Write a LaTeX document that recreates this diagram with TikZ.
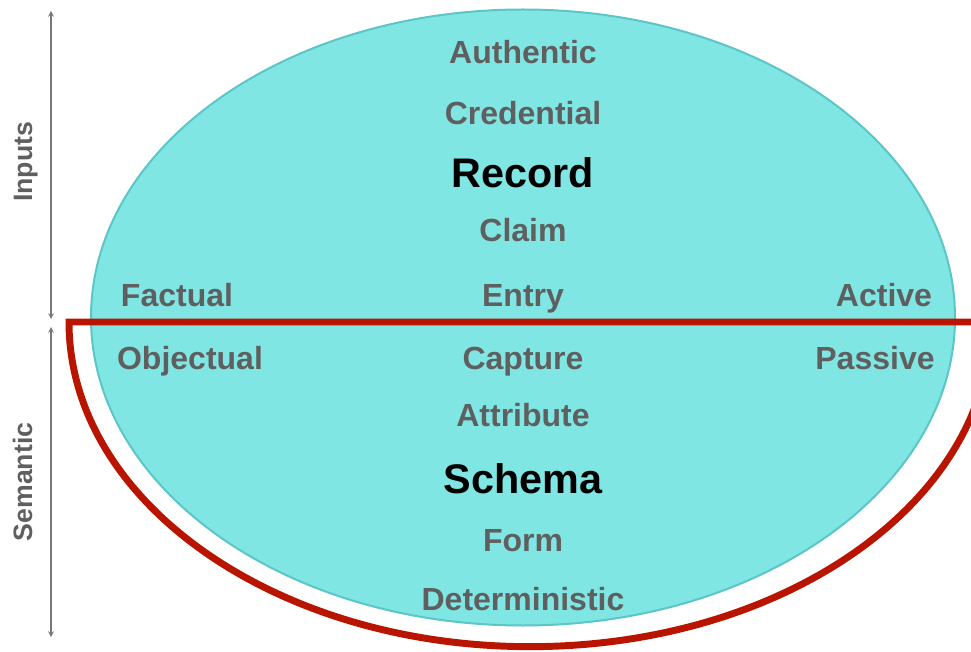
\documentclass[tikz,border=0pt]{standalone}
\usepackage{fontspec}
\setmainfont{Liberation Sans}
\usepackage{tikz}

\definecolor{lagoon}{RGB}{128,230,228}
\definecolor{lagoonrim}{RGB}{92,197,200}
\definecolor{brick}{RGB}{184,20,0}
\definecolor{ink}{RGB}{95,95,95}
\definecolor{axisgray}{RGB}{120,120,120}

\begin{document}
\begin{tikzpicture}[x=0.75pt, y=-0.75pt]
\tikzstyle{term} = [anchor=base, inner sep=0pt, text=ink, font=\bfseries\fontsize{24}{28}\selectfont]
\tikzstyle{core} = [anchor=base, inner sep=0pt, text=black, font=\bfseries\fontsize{31}{36}\selectfont]
\tikzstyle{side} = [anchor=base, inner sep=0pt, rotate=90, text=ink, font=\bfseries\fontsize{20}{24}\selectfont]
\tikzstyle{axis} = [draw=axisgray, line width=0.9pt, <->, >=stealth]
\clip (0, 0) rectangle (971, 652);

% the two halves
\draw [fill=lagoon, draw=lagoonrim, line width=1.5pt] (523, 317.5) ellipse [x radius=324pt, y radius=231pt];
\draw [draw=brick, line width=5.2pt, miter limit=20] (69, 322) arc [start angle=180, end angle=360, x radius=345.75pt, y radius=243.5pt] -- cycle;

% left scale
\coordinate (inhi) at (51, 11);
\coordinate (inlo) at (51, 319);
\coordinate (semhi) at (51, 327);
\coordinate (semlo) at (51, 637);
\node [side] (inputs) at (32, 162) {Inputs};
\node [side] (semantic) at (32, 482) {Semantic};
\foreach \from/\to in {inhi/inlo, semhi/semlo}
\draw [axis] (\from) -- (\to);

% words
\node [term] (authentic) at (523, 64) {Authentic};
\node [term] (credential) at (523, 125) {Credential};
\node [core] (record) at (523, 188) {Record};
\node [term] (claim) at (523, 242) {Claim};
\node [term] (entry) at (523, 307) {Entry};
\node [term] (factual) at (177, 307) {Factual};
\node [term] (active) at (884, 307) {Active};
\node [term] (objectual) at (190, 369) {Objectual};
\node [term] (capture) at (523, 369) {Capture};
\node [term] (passive) at (875, 369) {Passive};
\node [term] (attribute) at (523, 426) {Attribute};
\node [core] (schema) at (523, 493) {Schema};
\node [term] (form) at (523, 551) {Form};
\node [term] (deterministic) at (523, 610) {Deterministic};
\end{tikzpicture}
\end{document}
